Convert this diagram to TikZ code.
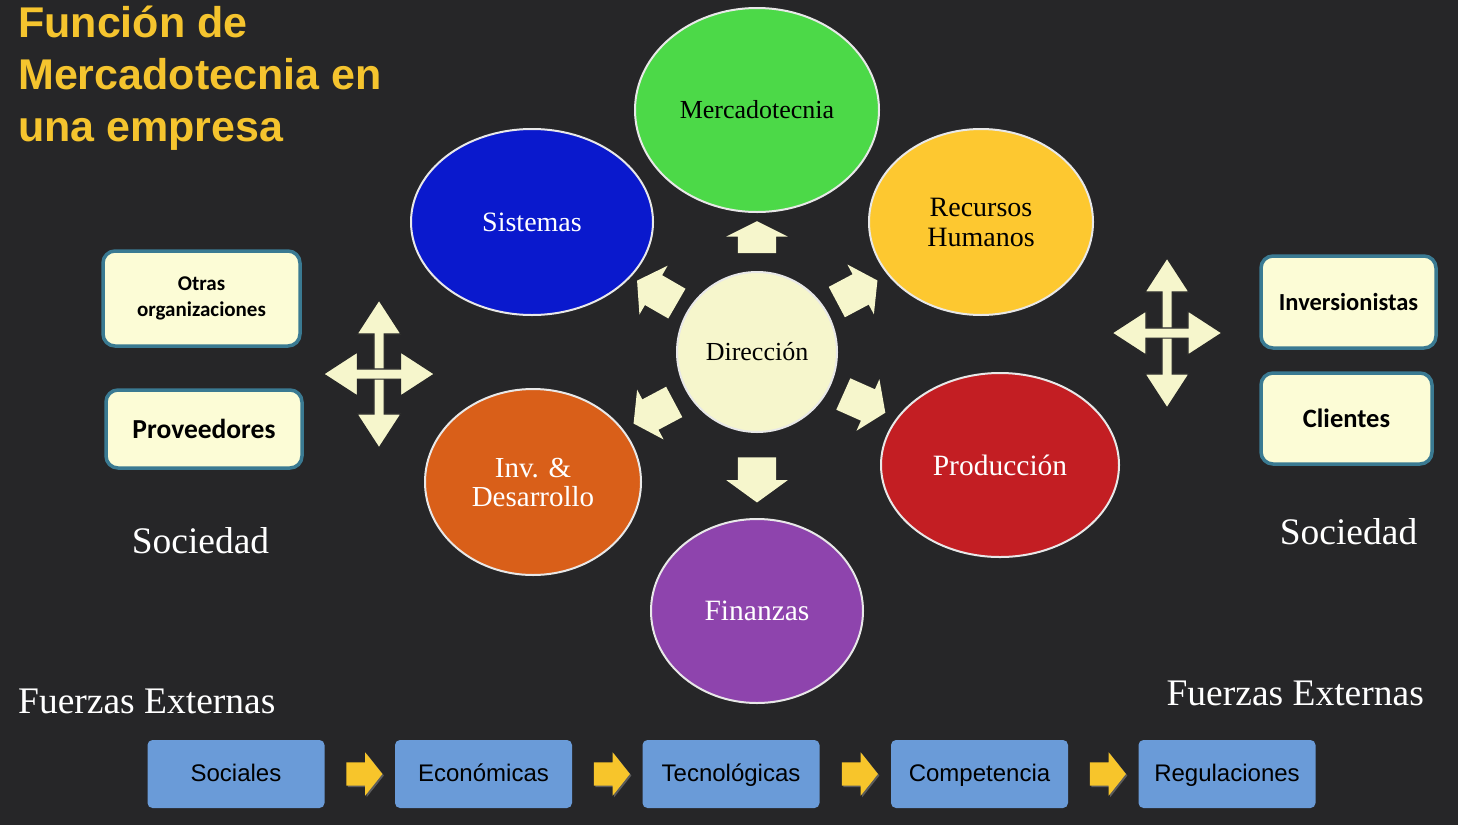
\documentclass[tikz,border=0pt]{standalone}
\usepackage{fontspec}
\setmainfont{Liberation Serif}
\setsansfont{Liberation Sans}
\newfontfamily\calfont{Carlito}
\usetikzlibrary{shapes.geometric,shapes.arrows,calc,shadows}
\definecolor{bg}{RGB}{38,38,40}
\definecolor{ttl}{RGB}{245,196,46}
\definecolor{cream}{RGB}{246,246,204}
\definecolor{boxcream}{RGB}{252,252,214}
\definecolor{tealb}{RGB}{58,122,146}
\definecolor{fblue}{RGB}{106,155,216}
\definecolor{gold}{RGB}{247,197,43}
\definecolor{mgreen}{RGB}{76,217,72}
\definecolor{mblue}{RGB}{10,25,205}
\definecolor{myellow}{RGB}{253,200,48}
\definecolor{morange}{RGB}{217,95,25}
\definecolor{mred}{RGB}{195,30,35}
\definecolor{mpurple}{RGB}{142,68,173}
\definecolor{rim}{RGB}{232,232,232}
\begin{document}
\begin{tikzpicture}[x=1pt,y=-1pt,
  ell/.style={ellipse, draw=rim, line width=2pt, inner sep=0pt, align=center, font=\fontsize{28}{30}\selectfont},
  carrow/.style={single arrow, fill=cream, draw=none, inner xsep=0pt, outer sep=0pt},
  yarrow/.style={single arrow, fill=gold, draw=none, inner xsep=0pt, inner ysep=11.5pt, minimum height=36pt, minimum width=43pt, single arrow head extend=10pt, single arrow tip angle=103, drop shadow={opacity=0.6, shadow xshift=1.5pt, shadow yshift=-1.5pt}},
  fourarr/.style={double arrow, fill=cream, draw=bg, line width=1.2pt, inner xsep=0pt, inner ysep=4.5pt, minimum width=43pt, double arrow head extend=17pt, double arrow tip angle=66},
  sbox/.style={rectangle, rounded corners=12pt, fill=boxcream, draw=tealb, line width=3.5pt, align=center, text=black},
  fbox/.style={rectangle, rounded corners=5pt, fill=fblue, minimum width=177pt, minimum height=68pt, text height=17pt, text depth=3pt, font=\sffamily\fontsize{24}{28}\selectfont, text=black},
  plain/.style={inner sep=0pt, text=white, font=\fontsize{37.5}{40}\selectfont}
]
\useasboundingbox (0,0) rectangle (1458,825);
\fill[bg] (0,0) rectangle (1458,825);

% title
\node[anchor=base west, inner sep=0pt, align=left, text=ttl, font=\sffamily\bfseries\fontsize{43}{52}\selectfont] (title) at (18,141) {Función de\\Mercadotecnia en\\una empresa};

% ellipses
\node[ell, fill=mgreen, minimum width=244pt, minimum height=204pt, font=\fontsize{26}{28}\selectfont] (merc) at (757,110) {Mercadotecnia};
\node[ell, fill=mblue, text=white, minimum width=242pt, minimum height=186pt] (sist) at (532,222) {Sistemas};
\node[ell, fill=myellow, minimum width=224pt, minimum height=186pt] (rrhh) at (981,222) {Recursos\\Humanos};
\node[ell, fill=cream, minimum width=160pt, minimum height=160pt, font=\fontsize{26}{28}\selectfont] (dir) at (757,352) {Dirección};
\node[ell, fill=morange, text=white, minimum width=216pt, minimum height=186pt, font=\fontsize{29}{29}\selectfont] (inv) at (533,482) {Inv. \&\\Desarrollo};
\node[ell, fill=mred, text=white, minimum width=238pt, minimum height=184pt, font=\fontsize{29.5}{30}\selectfont] (prod) at (1000,465) {Producción};
\node[ell, fill=mpurple, text=white, minimum width=212pt, minimum height=184pt, font=\fontsize{29.5}{30}\selectfont] (fin) at (757,611) {Finanzas};

% block arrows around Direccion
\node[carrow, minimum height=32pt, minimum width=61pt, inner ysep=19pt, single arrow head extend=11.5pt, single arrow tip angle=127, rotate=90] (aU) at (757,242) {};
\node[carrow, minimum height=45pt, minimum width=61pt, inner ysep=19pt, single arrow head extend=11.5pt, single arrow tip angle=108, rotate=-90] (aD) at (757,473) {};
\node[carrow, minimum height=46pt, minimum width=56pt, inner ysep=17pt, single arrow head extend=11pt, single arrow tip angle=112, rotate=150] (aUL) at (662,295) {};
\node[carrow, minimum height=46pt, minimum width=56pt, inner ysep=17pt, single arrow head extend=11pt, single arrow tip angle=112, rotate=28] (aUR) at (852,294) {};
\node[carrow, minimum height=46pt, minimum width=56pt, inner ysep=17pt, single arrow head extend=11pt, single arrow tip angle=112, rotate=208] (aLL) at (659,410) {};
\node[carrow, minimum height=46pt, minimum width=56pt, inner ysep=17pt, single arrow head extend=11pt, single arrow tip angle=112, rotate=-24] (aLR) at (859,401) {};

% four-way arrows
\node[fourarr, minimum height=148pt, rotate=90] (lv) at (379,374) {};
\node[fourarr, minimum height=111pt] (lh) at (379,374) {};
\node[fourarr, minimum height=150pt, rotate=90] (rv) at (1167,333) {};
\node[fourarr, minimum height=110pt] (rh) at (1167,333) {};

% side boxes
\node[sbox, minimum width=197pt, minimum height=95pt, font=\calfont\bfseries\fontsize{21}{26}\selectfont] (otras) at (201.5,298.5) {Otras\\organizaciones};
\node[sbox, minimum width=196pt, minimum height=78pt, font=\calfont\bfseries\fontsize{27.5}{30}\selectfont] (prov) at (204,429) {Proveedores};
\node[sbox, minimum width=175pt, minimum height=92pt, font=\calfont\bfseries\fontsize{24.5}{28}\selectfont] (inver) at (1348.5,302) {Inversionistas};
\node[sbox, minimum width=171pt, minimum height=91pt, font=\calfont\bfseries\fontsize{26.5}{30}\selectfont] (cli) at (1346.5,418.5) {Clientes};

% labels
\node[plain, anchor=base] (socL) at (200.5,553) {Sociedad};
\node[plain, anchor=base] (socR) at (1348.5,544) {Sociedad};
\node[plain, anchor=base west] (fuL) at (18,713) {Fuerzas Externas};
\node[plain, anchor=base east] (fuR) at (1424,705) {Fuerzas Externas};

% bottom chain
\node[fbox] (s1) at (236,774) {Sociales};
\node[fbox] (s2) at (483.5,774) {Económicas};
\node[fbox] (s3) at (731,774) {Tecnológicas};
\node[fbox] (s4) at (979.5,774) {Competencia};
\node[fbox] (s5) at (1227,774) {Regulaciones};
\node[yarrow] (y1) at ($(s1.east)!0.5!(s2.west)$) {};
\node[yarrow] (y2) at ($(s2.east)!0.5!(s3.west)$) {};
\node[yarrow] (y3) at ($(s3.east)!0.5!(s4.west)$) {};
\node[yarrow] (y4) at ($(s4.east)!0.5!(s5.west)$) {};
\end{tikzpicture}
\end{document}
